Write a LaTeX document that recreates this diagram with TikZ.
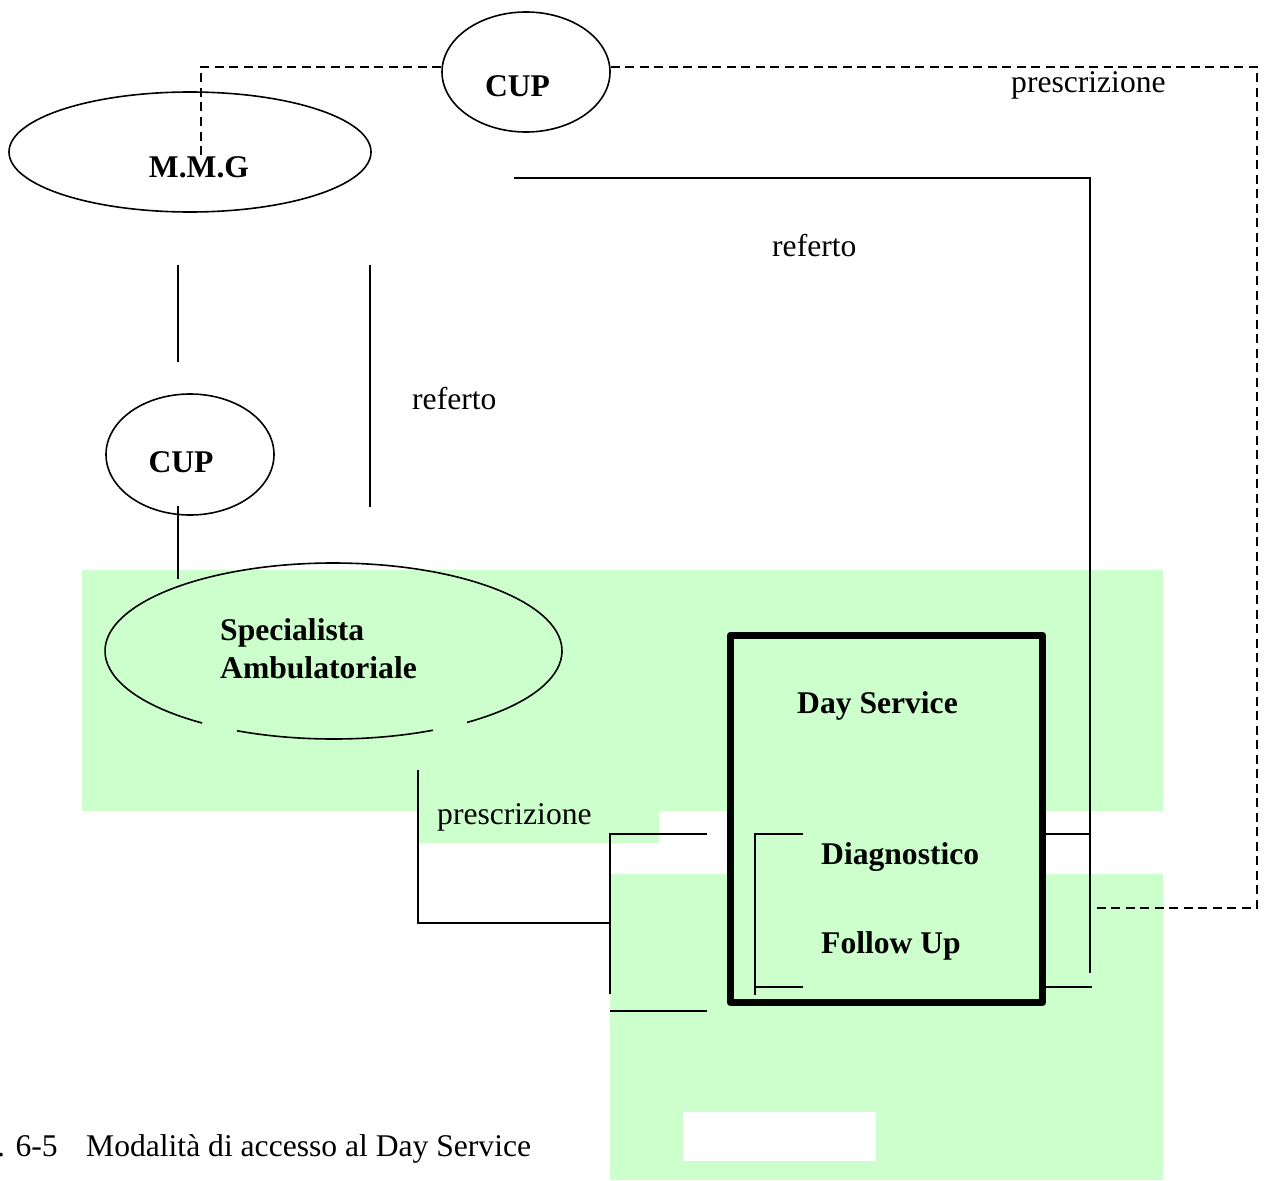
\documentclass[tikz,border=0pt]{standalone}
\usepackage{fontspec}
\setmainfont{Liberation Serif}
\usetikzlibrary{shapes.geometric}
\definecolor{paleGreen}{RGB}{204,255,204}
\tikzset{
  txt/.style={font=\fontsize{31.6}{37}\selectfont, inner sep=0pt, anchor=base west},
  btxt/.style={txt, font=\fontsize{31.6}{37}\selectfont\bfseries},
  wire/.style={draw=black, line width=1.7pt},
  dashwire/.style={draw=black, line width=1.7pt, dash pattern=on 9pt off 5.5pt},
  oval/.style={ellipse, draw=black, line width=1.6pt, inner sep=0pt},
  zone/.style={fill=paleGreen, draw=none}
}
\begin{document}
\begin{tikzpicture}[x=1pt, y=-1pt]
\useasboundingbox (0,0) rectangle (1265,1180);

% shaded areas
\fill[zone] (82,570) rectangle (1163,811);
\fill[zone] (419,811) rectangle (659,843);
\fill[zone] (610,874) rectangle (1163,1180);
\fill[white] (683,1112) rectangle (876,1161);

% Day Service box
\node[draw=black, fill=paleGreen, line width=7pt, line join=round, inner sep=0pt,
      minimum width=312pt, minimum height=367.5pt] (ds) at (886.5,818.75) {};

% ovals
\node[oval, minimum width=362pt, minimum height=120pt] (mmg) at (190,152) {};
\node[oval, minimum width=168pt, minimum height=120pt] (cupTop) at (526,72) {};
\node[oval, minimum width=168pt, minimum height=121pt] (cupLow) at (190,454.5) {};

% Specialista oval, outline broken at the bottom
\coordinate (spc) at (333.5,651);
\draw[wire, line width=1.6pt] (spc) ++(305.75:228.5pt and 88pt)
  arc[start angle=305.75, end angle=594.9, x radius=228.5pt, y radius=88pt];
\draw[wire, line width=1.6pt] (spc) ++(245:228.5pt and 88pt)
  arc[start angle=245, end angle=295.8, x radius=228.5pt, y radius=88pt];

% free connector ends
\coordinate (a1) at (514,178);
\coordinate (a2) at (1090,178);
\coordinate (a3) at (1090,973);
\coordinate (t1) at (1090,834);
\coordinate (t2) at (1092,987);
\coordinate (v1a) at (178,265);
\coordinate (v1b) at (178,362);
\coordinate (v2a) at (370,265);
\coordinate (v2b) at (370,507);
\coordinate (c1a) at (178,506);
\coordinate (c1b) at (178,579);
\coordinate (p1) at (418,770);
\coordinate (p2) at (418,923);
\coordinate (p3) at (610,923);
\coordinate (b1) at (707,834);
\coordinate (b2) at (610,834);
\coordinate (b3) at (610,994);
\coordinate (b4) at (610,1011);
\coordinate (b5) at (707,1011);
\coordinate (i1) at (803,834);
\coordinate (i2) at (755,834);
\coordinate (i3) at (755,995);
\coordinate (i4) at (755,987);
\coordinate (i5) at (803,987);
\coordinate (d1) at (201,155);
\coordinate (d2) at (201,67);
\coordinate (d3) at (1257,67);
\coordinate (d4) at (1257,908);
\coordinate (d5) at (1095,908);

% solid connectors
\draw[wire] (a1) -- (a2) -- (a3);
\draw[wire] (ds.east |- t1) -- (t1);
\draw[wire] (ds.east |- t2) -- (t2);
\draw[wire] (v1a) -- (v1b);
\draw[wire] (v2a) -- (v2b);
\draw[wire] (c1a) -- (c1b);
\draw[wire] (p1) -- (p2) -- (p3);
\draw[wire] (b1) -- (b2) -- (b3);
\draw[wire] (b4) -- (b5);
\draw[wire] (i1) -- (i2) -- (i3);
\draw[wire] (i4) -- (i5);

% dashed connectors
\draw[dashwire] (d1) -- (d2) -- (d2 -| cupTop.west);
\draw[dashwire] (d2 -| cupTop.east) -- (d3) -- (d4) -- (d5);

% labels
\node[btxt, anchor=base] (tMmg) at (199,177) {M.M.G};
\node[btxt, anchor=base] (tCupTop) at (517.5,97) {CUP};
\node[btxt, anchor=base] (tCupLow) at (181,472) {CUP};
\node[btxt] (tSpec1) at (220,640) {Specialista};
\node[btxt] (tSpec2) at (220,678) {Ambulatoriale};
\node[btxt] (tDay) at (797,713) {Day Service};
\node[btxt] (tDiag) at (821,864) {Diagnostico};
\node[btxt] (tFol) at (821,953) {Follow Up};
\node[txt] (tPresTop) at (1011,93) {prescrizione};
\node[txt] (tPresLow) at (437,824) {prescrizione};
\node[txt] (tRef1) at (772,256) {referto};
\node[txt] (tRef2) at (412,409) {referto};
\node[txt, anchor=base east] (tFig) at (58,1156) {Fig. 6-5};
\node[txt] (tCap) at (86,1156) {Modalità di accesso al Day Service};
\end{tikzpicture}
\end{document}
